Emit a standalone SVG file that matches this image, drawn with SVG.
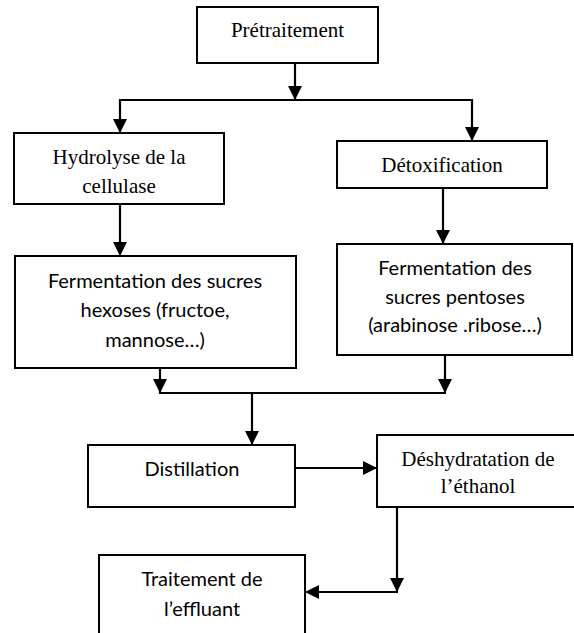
<svg xmlns="http://www.w3.org/2000/svg" width="574" height="633" viewBox="0 0 574 633">
<style>
.box{fill:#fff;stroke:#000;stroke-width:2}
.ln{fill:none;stroke:#000;stroke-width:2.2}
.tr{font-family:"Liberation Serif","Times New Roman",serif;font-size:21px;fill:#000;text-anchor:middle}
.ca{font-family:Lato,"Liberation Sans",sans-serif;font-size:20px;fill:#000;text-anchor:middle}
</style>
<defs>
<marker id="ah" viewBox="0 0 14 14" refX="14" refY="7" markerWidth="14" markerHeight="14" markerUnits="userSpaceOnUse" orient="auto">
<path d="M0,0 L14,7 L0,14 z" fill="#000"/>
</marker>
</defs>
<rect width="574" height="633" fill="#fff"/>
<g id="connectors">
<line class="ln" x1="295" y1="63" x2="295" y2="100" marker-end="url(#ah)"/>
<line class="ln" x1="119" y1="100" x2="473" y2="100"/>
<line class="ln" x1="120" y1="99" x2="120" y2="133" marker-end="url(#ah)"/>
<line class="ln" x1="472" y1="99" x2="472" y2="141" marker-end="url(#ah)"/>
<line class="ln" x1="120" y1="204" x2="120" y2="256" marker-end="url(#ah)"/>
<line class="ln" x1="443" y1="188" x2="443" y2="244" marker-end="url(#ah)"/>
<line class="ln" x1="160" y1="368" x2="160" y2="393" marker-end="url(#ah)"/>
<line class="ln" x1="445" y1="355" x2="445" y2="393" marker-end="url(#ah)"/>
<line class="ln" x1="159" y1="393" x2="446" y2="393"/>
<line class="ln" x1="252" y1="392" x2="252" y2="445" marker-end="url(#ah)"/>
<line class="ln" x1="295" y1="468" x2="377" y2="468" marker-end="url(#ah)"/>
<line class="ln" x1="397" y1="507" x2="397" y2="592" marker-end="url(#ah)"/>
<line class="ln" x1="398" y1="592" x2="305" y2="592" marker-end="url(#ah)"/>
</g>
<g id="pretraitement">
<rect class="box" x="197" y="7" width="181" height="56"/>
<text class="tr" x="287.5" y="37">Prétraitement</text>
</g>
<g id="hydrolyse">
<rect class="box" x="14" y="133" width="210" height="71"/>
<text class="tr" x="119" y="164">Hydrolyse de la</text>
<text class="tr" x="119" y="193">cellulase</text>
</g>
<g id="detoxification">
<rect class="box" x="337" y="141" width="210" height="47"/>
<text class="tr" x="442" y="172">Détoxification</text>
</g>
<g id="fermentation-hexoses">
<rect class="box" x="15" y="256" width="281" height="112"/>
<text class="ca" x="155" y="288">Fermentation des sucres</text>
<text class="ca" x="155" y="317">hexoses (fructoe,</text>
<text class="ca" x="155" y="347">mannose…)</text>
</g>
<g id="fermentation-pentoses">
<rect class="box" x="337" y="244" width="235" height="111"/>
<text class="ca" x="455" y="275">Fermentation des</text>
<text class="ca" x="455" y="304">sucres pentoses</text>
<text class="ca" x="455" y="332">(arabinose .ribose…)</text>
</g>
<g id="distillation">
<rect class="box" x="88" y="445" width="207" height="62"/>
<text class="ca" x="192" y="476">Distillation</text>
</g>
<g id="deshydratation">
<rect class="box" x="377" y="435" width="210" height="72"/>
<text class="tr" x="478" y="466">Déshydratation de</text>
<text class="tr" x="478" y="493">l’éthanol</text>
</g>
<g id="traitement">
<rect class="box" x="99" y="555" width="206" height="90"/>
<text class="ca" x="202" y="586">Traitement de</text>
<text class="ca" x="202" y="616">l’effluant</text>
</g>
</svg>
